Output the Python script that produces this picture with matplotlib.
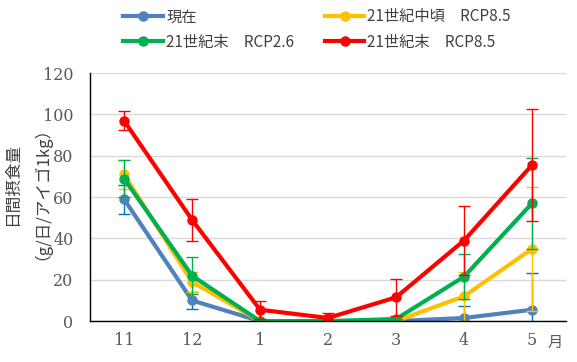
import numpy as np
import matplotlib
matplotlib.use('Agg')
import matplotlib.pyplot as plt

plt.rcParams['font.family'] = ['Noto Sans CJK JP', 'DejaVu Sans']

months = ['11', '12', '1', '2', '3', '4', '5']

# daily intake (g/day/kg) and error
now = [59, 10, 0, 0, 0, 1.5, 5.5]
now_err = [7, 4, 0, 0, 0, 6, 18]
mid85 = [71, 19, 0, 0, 0, 12, 35]
mid85_err = [7, 5, 0, 0, 0, 12, 30]
end26 = [69, 22, 0, 0, 1, 21.5, 57]
end26_err = [9, 9, 0, 0, 0, 11, 22]
end85 = [97, 49, 5.5, 1.5, 11.5, 39, 75.5]
end85_err = [4.5, 10, 4.4, 2.5, 9, 16.5, 27]

labels = ['現在', '21世紀中頃\u3000RCP8.5', '21世紀末\u3000RCP2.6', '21世紀末\u3000RCP8.5']
colors = ['#4F81BD', '#FFC000', '#00B050', '#FF0000']
ecolors = ['#0070C0', '#FFC000', '#00B050', '#FF0000']

fig = plt.figure(figsize=(5.77, 3.62), dpi=100)
ax = fig.add_axes([0.156, 0.113, 0.825, 0.685])

x = np.arange(len(months))
handles = []
for vals, err, c, ec, lab in zip([now, mid85, end26, end85],
                                 [now_err, mid85_err, end26_err, end85_err],
                                 colors, ecolors, labels):
    ax.errorbar(x, vals, yerr=err, fmt='none', ecolor=ec, elinewidth=1,
                capsize=4, capthick=1)
    h, = ax.plot(x, vals, '-o', color=c, lw=3, ms=6.5, label=lab)
    handles.append(h)

ax.set_xlim(-0.5, 6.5)
ax.set_ylim(0, 120)
ax.set_yticks(range(0, 121, 20))
ax.set_xticks(x)
ax.set_xticklabels(months)
for t in ax.get_xticklabels() + ax.get_yticklabels():
    t.set_family('DejaVu Serif')
    t.set_fontsize(11.5)
    t.set_color('#595959')
ax.tick_params(axis='y', length=0, pad=12)
ax.tick_params(axis='x', length=0, pad=8)
ax.grid(axis='y', color='#D9D9D9', lw=1)
ax.set_axisbelow(True)
for s in ['top', 'right']:
    ax.spines[s].set_visible(False)
for s in ['left', 'bottom']:
    ax.spines[s].set_color('black')
    ax.spines[s].set_linewidth(1)

ax.annotate('月', xy=(6, 0), xycoords='data', xytext=(11, -9),
            textcoords='offset points', ha='left', va='top',
            fontsize=11, color='#595959')

ax.set_ylabel('日間摂食量\n（g/日/アイゴ1kg）', fontsize=12, color='#404040',
              linespacing=1.25)
ax.yaxis.set_label_coords(-0.1, 0.55)

# column-major order: blue, green | yellow, red
order = [0, 2, 1, 3]
fig.legend([handles[i] for i in order], [labels[i] for i in order],
           ncol=2, loc='upper left', bbox_to_anchor=(0.19, 1.015),
           frameon=False, fontsize=11, handlelength=2.6, columnspacing=2.0,
           labelspacing=0.55, handletextpad=0.2, labelcolor='#404040')

fig.savefig('out.png', dpi=100)
